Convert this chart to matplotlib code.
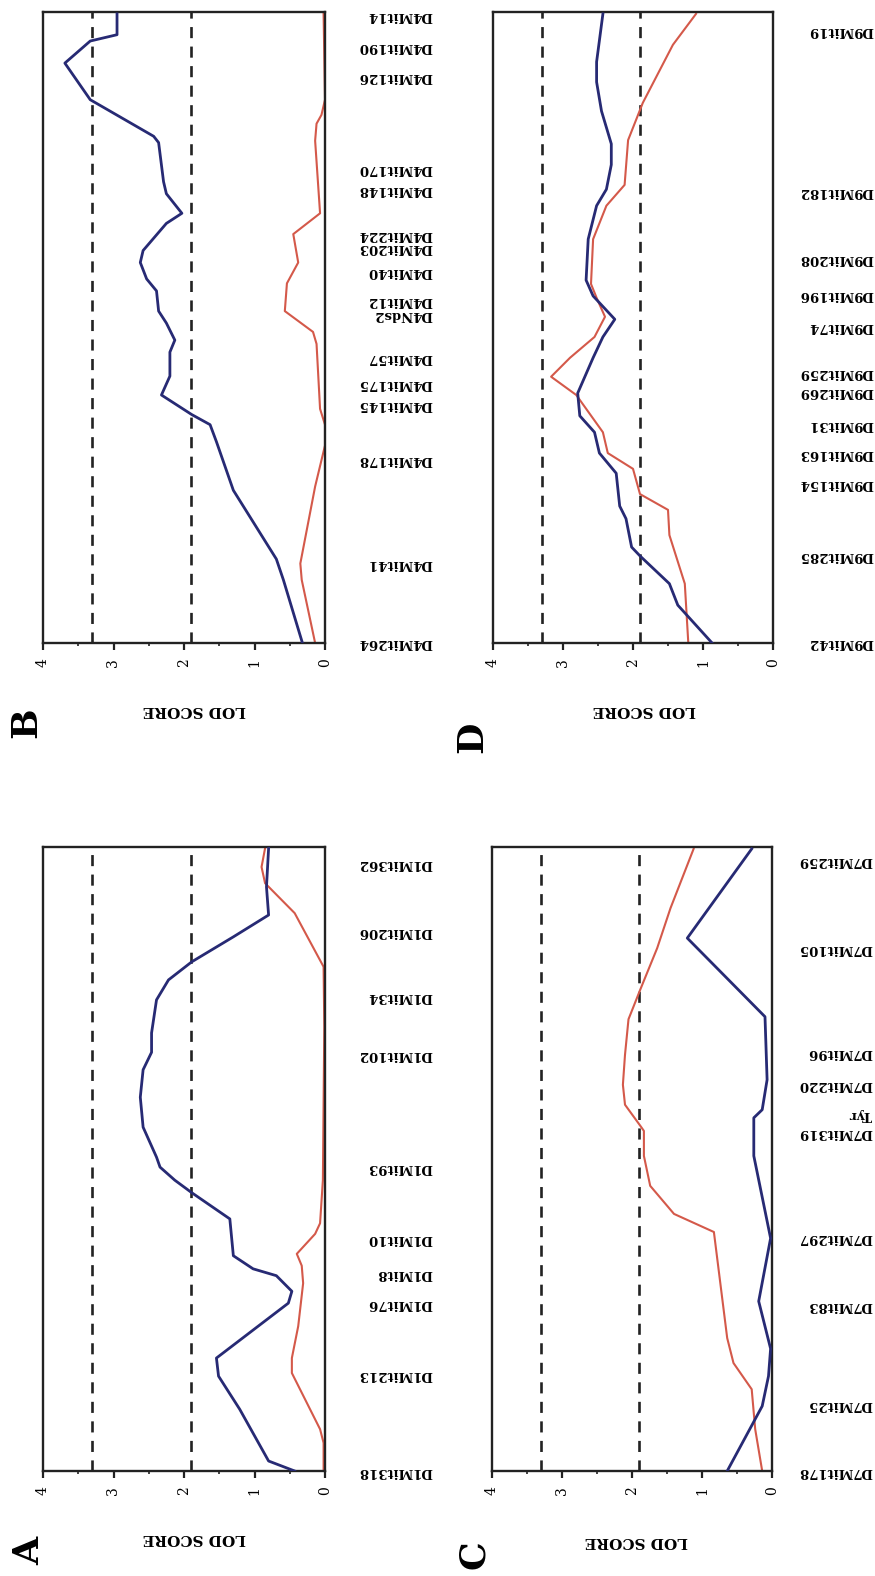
import matplotlib
matplotlib.use("Agg")
import matplotlib.pyplot as plt
from matplotlib.ticker import MultipleLocator

plt.rcParams['font.family'] = ['DejaVu Serif', 'DejaVu Sans']

# ---------------- data ----------------
# Panel A (chromosome 1)
A_markers = ["D1Mit318", "D1Mit213", "D1Mit76", "D1Mit8", "D1Mit10", "D1Mit93",
             "D1Mit102", "D1Mit34", "D1Mit206", "D1Mit362"]
A_marker_pos = [0, 15.5, 26.8, 31.7, 37.3, 48.6, 66.8, 76.0, 86.4, 97.4]
A_blue_pos = [0, 1.6, 9.9, 15.2, 18.1, 26.9, 28.8, 31.3, 32.4, 34.5, 40.4, 44.6, 46.6,
              48.7, 50.3, 55.1, 59.9, 64.3, 67.1, 70.2, 75.5, 78.7, 81.6, 85.6, 89.1, 93.6, 99.8]
A_blue_lod = [0.43, 0.80, 1.21, 1.51, 1.54, 0.52, 0.47, 0.69, 1.02, 1.30, 1.35, 1.89, 2.13,
              2.34, 2.39, 2.58, 2.62, 2.58, 2.46, 2.46, 2.39, 2.22, 1.89, 1.30, 0.80, 0.83, 0.80]
A_red_pos = [0, 4.5, 6.7, 15.7, 18.1, 23.2, 30.1, 32.9, 34.8, 38.0, 39.7, 46.6, 71.2,
             80.8, 89.4, 94.2, 96.8, 99.8]
A_red_lod = [0.02, 0.02, 0.07, 0.47, 0.47, 0.38, 0.31, 0.33, 0.40, 0.14, 0.07, 0.03, 0.01,
             0.02, 0.43, 0.85, 0.90, 0.85]

# Panel B (chromosome 4)
B_markers = ["D4Mit264", "D4Mit41", "D4Mit178", "D4Mit145", "D4Mit175", "D4Mit57",
             "D4Nds2", "D4Mit12", "D4Mit40", "D4Mit203", "D4Mit224", "D4Mit148",
             "D4Mit170", "D4Mit126", "D4Mit190", "D4Mit14"]
B_marker_pos = [0, 12.6, 29.1, 37.8, 41.2, 45.2, 52.0, 54.2, 58.8, 62.6, 64.8, 71.9,
                75.2, 89.7, 94.5, 99.4]
B_blue_pos = [0, 10.0, 13.3, 24.2, 31.9, 34.6, 36.2, 39.3, 42.3, 46.1, 48.0, 50.7, 52.6,
              55.8, 57.7, 60.3, 62.2, 66.5, 68.1, 71.2, 73.1, 79.3, 80.3, 86.1, 91.9,
              95.4, 96.4, 99.7]
B_blue_lod = [0.32, 0.59, 0.69, 1.30, 1.54, 1.63, 1.89, 2.32, 2.20, 2.20, 2.13, 2.25, 2.36,
              2.39, 2.53, 2.62, 2.58, 2.25, 2.03, 2.25, 2.29, 2.36, 2.43, 3.33, 3.69,
              3.33, 2.95, 2.95]
B_red_pos = [0, 10.0, 12.6, 24.8, 31.3, 34.6, 37.1, 47.4, 49.3, 52.6, 57.0, 60.3, 64.8,
             68.1, 79.6, 82.3, 83.7, 86.1, 99.7]
B_red_lod = [0.14, 0.33, 0.35, 0.14, 0.0, 0.0, 0.07, 0.12, 0.17, 0.57, 0.54, 0.38, 0.45,
             0.07, 0.14, 0.12, 0.05, 0.0, 0.02]

# Panel C (chromosome 7)
C_markers = ["D7Mit178", "D7Mit25", "D7Mit83", "D7Mit297", "D7Mit319", "Tyr",
             "D7Mit220", "D7Mit96", "D7Mit105", "D7Mit259"]
C_marker_pos = [0, 10.6, 26.6, 37.5, 54.2, 57.1, 61.9, 67.1, 83.8, 97.9]
C_blue_pos = [0, 10.4, 15.2, 19.6, 27.2, 37.3, 50.5, 56.6, 57.9, 62.7, 72.8, 85.4, 99.7]
C_blue_lod = [0.64, 0.14, 0.05, 0.02, 0.19, 0.02, 0.26, 0.26, 0.14, 0.07, 0.10, 1.21, 0.29]
C_red_pos = [0, 6.7, 13.1, 17.3, 21.3, 38.3, 41.2, 45.7, 50.5, 54.5, 55.3, 58.7, 61.9,
             66.7, 72.4, 77.2, 83.8, 90.2, 99.7]
C_red_lod = [0.14, 0.24, 0.29, 0.55, 0.64, 0.83, 1.40, 1.74, 1.83, 1.83, 1.88, 2.10, 2.13,
             2.10, 2.05, 1.88, 1.64, 1.45, 1.12]

# Panel D (chromosome 9)
D_markers = ["D9Mit42", "D9Mit285", "D9Mit154", "D9Mit163", "D9Mit31", "D9Mit269",
             "D9Mit259", "D9Mit74", "D9Mit196", "D9Mit208", "D9Mit182", "D9Mit19"]
D_marker_pos = [0, 13.9, 25.2, 30.1, 34.7, 39.8, 42.8, 50.1, 55.3, 60.9, 71.5, 97.0]
D_blue_pos = [0, 6.0, 9.4, 13.8, 15.2, 19.7, 21.7, 26.9, 30.1, 33.4, 36.0, 39.6, 45.2,
              48.5, 51.3, 55.0, 57.5, 64.0, 69.3, 71.9, 75.8, 79.1, 84.3, 88.9, 92.1, 99.7]
D_blue_lod = [0.87, 1.36, 1.48, 1.90, 2.02, 2.10, 2.19, 2.24, 2.48, 2.55, 2.76, 2.79, 2.57,
              2.43, 2.26, 2.57, 2.67, 2.64, 2.52, 2.38, 2.31, 2.31, 2.45, 2.52, 2.52, 2.43]
D_red_pos = [0, 9.4, 17.1, 21.1, 23.6, 27.6, 30.1, 33.4, 39.3, 42.2, 45.2, 48.5, 51.7,
             54.7, 56.9, 64.0, 69.3, 72.6, 79.7, 85.6, 94.8, 99.7]
D_red_lod = [1.21, 1.26, 1.48, 1.50, 1.90, 2.00, 2.36, 2.43, 2.81, 3.17, 2.90, 2.55, 2.40,
             2.52, 2.60, 2.57, 2.38, 2.12, 2.07, 1.86, 1.43, 1.10]

thresholds = [3.3, 1.9]
lod_ticks = [0, 1, 2, 3, 4]
panel_letters = ["A", "B", "C", "D"]
axis_title = "LOD SCORE"

# ---------------- style ----------------
NAVY = "#272a74"
RED = "#d4594a"
INK = "#222222"
W, H = 875, 1576

fig = plt.figure(figsize=(W / 100, H / 100), dpi=100)


def box(l, r, t, b):
    return [l / W, 1 - b / H, (r - l) / W, (b - t) / H]


def panel(rect, markers, mpos, bpos, blod, rpos, rlod, label_off):
    ax = fig.add_axes(rect)
    for th in thresholds:
        ax.axvline(th, color=INK, lw=1.9, ls=(0, (4.2, 3.2)), zorder=1)
    ax.plot(rlod, rpos, color=RED, lw=1.5, zorder=2)
    ax.plot(blod, bpos, color=NAVY, lw=2.0, zorder=3)
    ax.set_xlim(4, 0)
    ax.set_ylim(0, 100)
    ax.set_xticks(lod_ticks)
    ax.set_xticklabels([str(t) for t in lod_ticks])
    ax.xaxis.set_minor_locator(MultipleLocator(0.5))
    ax.set_yticks([])
    ax.tick_params(axis='x', which='major', direction='out', length=5, width=1.6,
                   color=INK, labelsize=10, labelrotation=90, pad=6)
    ax.tick_params(axis='x', which='minor', direction='out', length=2.5, width=1.2,
                   color=INK)
    for s in ax.spines.values():
        s.set_linewidth(1.7)
        s.set_color(INK)
    for name, p in zip(markers, mpos):
        ax.annotate(name, xy=(1, p), xycoords=('axes fraction', 'data'),
                    xytext=(label_off, 0), textcoords='offset points',
                    rotation=180, ha='right', va='center', fontsize=9.5,
                    fontweight='bold', annotation_clip=False)
    return ax


axA = panel(box(43, 325, 847, 1471), A_markers, A_marker_pos, A_blue_pos, A_blue_lod,
            A_red_pos, A_red_lod, 77)
axB = panel(box(43, 325, 12, 643), B_markers, B_marker_pos, B_blue_pos, B_blue_lod,
            B_red_pos, B_red_lod, 77)
axC = panel(box(492, 772, 847, 1471), C_markers, C_marker_pos, C_blue_pos, C_blue_lod,
            C_red_pos, C_red_lod, 72)
axD = panel(box(493, 773, 12, 643), D_markers, D_marker_pos, D_blue_pos, D_blue_lod,
            D_red_pos, D_red_lod, 72)

# axis titles (upside down as in the reference)
for (x, y) in [(194, 1538), (194, 710), (636, 1541), (644, 710)]:
    fig.text(x / W, 1 - y / H, axis_title, rotation=180, ha='center', va='center',
             fontsize=11, fontweight='bold')

# panel letters
for letter, (x, y) in zip(panel_letters, [(29, 1551), (26, 723), (474, 1555), (472, 737)]):
    fig.text(x / W, 1 - y / H, letter, rotation=90, ha='center', va='center',
             fontsize=26, fontweight='bold')

fig.savefig("out.png", dpi=100)
